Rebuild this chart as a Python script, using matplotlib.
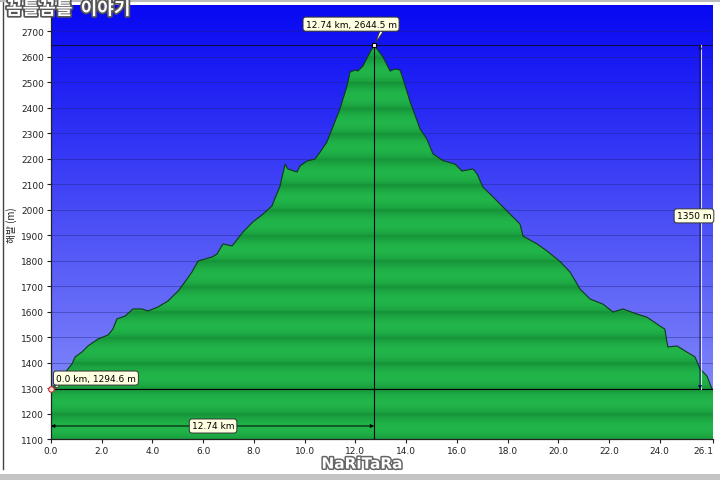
import numpy as np
import matplotlib
matplotlib.use("Agg")
import matplotlib.pyplot as plt
import matplotlib.patheffects as pe
from matplotlib.patches import Polygon, Rectangle
from matplotlib.lines import Line2D

# elevation profile (km, m)
dist_km = [0.0, 0.28, 0.59, 0.83, 0.95, 1.22, 1.46, 1.85, 2.25, 2.44, 2.60, 2.92,
           3.23, 3.59, 3.82, 4.22, 4.61, 5.01, 5.28, 5.56, 5.80, 6.35, 6.54, 6.78,
           7.14, 7.57, 7.96, 8.36, 8.71, 9.03, 9.23, 9.34, 9.70, 9.82, 10.09, 10.41,
           10.61, 10.88, 11.08, 11.39, 11.67, 11.79, 11.99, 12.10, 12.30, 12.50, 12.74,
           13.09, 13.37, 13.56, 13.76, 13.88, 14.15, 14.55, 14.82, 15.06, 15.45, 15.93,
           16.20, 16.64, 16.80, 17.03, 17.43, 17.98, 18.49, 18.61, 19.16, 19.56, 20.07,
           20.46, 20.86, 21.25, 21.76, 22.16, 22.55, 23.10, 23.49, 24.01, 24.20, 24.32,
           24.68, 25.07, 25.39, 25.59, 25.86, 26.06, 26.1]
elev_m = [1294.6, 1330, 1365, 1395, 1422, 1441, 1465, 1492, 1508, 1531, 1571, 1582,
          1610, 1610, 1602, 1618, 1641, 1680, 1716, 1755, 1798, 1814, 1825, 1865,
          1857, 1912, 1951, 1982, 2014, 2092, 2178, 2159, 2147, 2171, 2190, 2198,
          2225, 2265, 2316, 2394, 2484, 2539, 2547, 2543, 2563, 2602, 2644.5,
          2598, 2543, 2551, 2547, 2512, 2425, 2316, 2276, 2218, 2192, 2178,
          2151, 2159, 2139, 2088, 2049, 1994, 1943, 1896, 1865, 1837, 1796,
          1755, 1688, 1649, 1629, 1598, 1610, 1590, 1578, 1543, 1531, 1461,
          1465, 1441, 1422, 1375, 1347, 1296, 1294]

x_ticks = [0, 2, 4, 6, 8, 10, 12, 14, 16, 18, 20, 22, 24, 26.1]
x_tick_labels = ['0.0', '2.0', '4.0', '6.0', '8.0', '10.0', '12.0', '14.0',
                 '16.0', '18.0', '20.0', '22.0', '24.0', '26.1']
y_ticks = list(range(1100, 2701, 100))

peak_km, peak_m = 12.74, 2644.5
start_km, start_m = 0.0, 1294.6
climb_m = 1350
total_km = 26.1

ymin, ymax = 1100, 2802

fig = plt.figure(figsize=(7.2, 4.81), dpi=100)
fig.patch.set_facecolor('white')
ax = fig.add_axes([51 / 720, 1 - 440 / 481, 662 / 720, 434 / 481])
ax.set_xlim(0, total_km)
ax.set_ylim(ymin, ymax)

# blue sky gradient
rows = np.linspace(0, 1, 300)[:, None]
bottom = np.array([0.56, 0.59, 0.98])
top = np.array([0.03, 0.03, 0.95])
sky = bottom + (top - bottom) * rows[..., None]
sky = np.repeat(sky, 2, axis=1)
ax.imshow(sky, extent=[0, total_km, ymin, ymax], origin='lower', aspect='auto', zorder=0)

# grid
for y in y_ticks:
    ax.axhline(y, color=(0.12, 0.12, 0.45), lw=0.6, alpha=0.45, zorder=1)

# banded green fill clipped to the profile
m_rows = np.linspace(ymin, ymax, 1200)
t = ((m_rows - 1100) % 100) / 100.0
f = np.clip(0.2 + 0.8 * np.sin(np.pi * (0.15 + 0.8 * t)), 0, 1)
light = np.array([0.13, 0.71, 0.29])
dark = np.array([0.06, 0.50, 0.18])
green = dark + (light - dark) * f[:, None]
green = np.repeat(green[:, None, :], 2, axis=1)
verts = list(zip(dist_km, elev_m)) + [(total_km, ymin), (0, ymin)]
poly = Polygon(verts, closed=True, facecolor='none', edgecolor='none', transform=ax.transData)
ax.add_patch(poly)
im = ax.imshow(green, extent=[0, total_km, ymin, ymax], origin='lower', aspect='auto', zorder=2)
im.set_clip_path(poly)
ax.plot(dist_km, elev_m, color='#103a18', lw=0.8, zorder=3)

# reference lines
ax.axhline(start_m, color='black', lw=0.8, zorder=4)
ax.axhline(peak_m, color=(0.05, 0.05, 0.3), lw=0.8, zorder=4)
ax.plot([peak_km, peak_km], [ymin, peak_m], color='black', lw=0.8, zorder=4)

# horizontal distance arrow
ax.annotate('', xy=(peak_km, 1151), xytext=(0, 1151),
            arrowprops=dict(arrowstyle='<|-|>', color='black', lw=0.7,
                            mutation_scale=5, shrinkA=0, shrinkB=0), zorder=5)
# vertical climb arrow
ax.plot([25.62, 25.62], [start_m, peak_m], color='white', lw=0.8, alpha=0.8, zorder=4)
ax.annotate('', xy=(25.59, peak_m), xytext=(25.59, start_m),
            arrowprops=dict(arrowstyle='<|-|>', color='#10105a', lw=0.7,
                            mutation_scale=5, shrinkA=0, shrinkB=0), zorder=5)

box = dict(boxstyle='round,pad=0.28,rounding_size=0.3', fc='#ffffe1', ec='#333333', lw=0.7)
wedge = dict(arrowstyle='wedge,tail_width=0.35', fc='#ffffe1', ec='#333333', lw=0.6,
             shrinkA=0, shrinkB=2)
ax.annotate(f'{peak_km} km, {peak_m} m', xy=(peak_km, peak_m), xytext=(11.83, 2727),
            ha='center', va='center', fontsize=6.5, bbox=box,
            arrowprops=dict(wedge, relpos=(0.85, 0.0)), zorder=7, annotation_clip=False)
ax.annotate(f'{start_km} km, {start_m} m', xy=(start_km, start_m), xytext=(1.77, 1339),
            ha='center', va='center', fontsize=6.5, bbox=box,
            arrowprops=dict(wedge, relpos=(0.1, 0.0)), zorder=7, annotation_clip=False)
ax.text(25.35, 1975, f'{climb_m} m', ha='center', va='center', fontsize=6.5, bbox=box, zorder=7)
ax.text(6.39, 1151, f'{peak_km} km', ha='center', va='center', fontsize=6.5, bbox=box, zorder=7)

ax.plot([peak_km], [peak_m], marker='s', ms=3.2, mfc='white', mec='black', mew=0.8, zorder=8)
ax.plot([start_km], [start_m], marker='o', ms=4, mfc='#ffd0d0', mec='#c03030', mew=0.8,
        zorder=8, clip_on=False)

ax.set_xticks(x_ticks)
ax.set_xticklabels(x_tick_labels)
ax.get_xticklabels()[-1].set_horizontalalignment('right')
ax.set_yticks(y_ticks)
ax.tick_params(labelsize=6.5, length=3, width=0.8, color='#222222', labelcolor='#222222', pad=2)
for s in ['top', 'right']:
    ax.spines[s].set_visible(False)
for s in ['left', 'bottom']:
    ax.spines[s].set_color('#222222')
    ax.spines[s].set_linewidth(0.9)

fig.text(12 / 720, 1 - 225 / 481, '해발 (m)', rotation=90, ha='center', va='center',
         fontsize=7, family=['Noto Sans CJK KR', 'DejaVu Sans'], color='#222222')

# window frame bits
fig.add_artist(Line2D([3 / 720, 3 / 720], [1 - 470 / 481, 1], color='#444444', lw=1.0))
fig.add_artist(Line2D([0, 1], [1 - 1.5 / 481, 1 - 1.5 / 481], color='#bbbbbb', lw=1.5))
fig.add_artist(Rectangle((0, 0), 1, 6 / 481, transform=fig.transFigure,
                         facecolor='#c4c4c4', edgecolor='none'))

# watermarks
fig.text(6 / 720, 1 - 10 / 481, '꼼틀꼼틀  이야기', ha='left', va='center', fontsize=13,
         fontweight='bold', color='white', family=['Noto Sans CJK KR', 'DejaVu Sans'],
         path_effects=[pe.withStroke(linewidth=2.5, foreground='#555555')])
fig.text(362 / 720, 1 - 465 / 481, 'NaRiTaRa', ha='center', va='center', fontsize=11,
         fontweight='bold', color='white',
         path_effects=[pe.withStroke(linewidth=2.2, foreground='#666666')])

fig.savefig('out.png', dpi=100)
